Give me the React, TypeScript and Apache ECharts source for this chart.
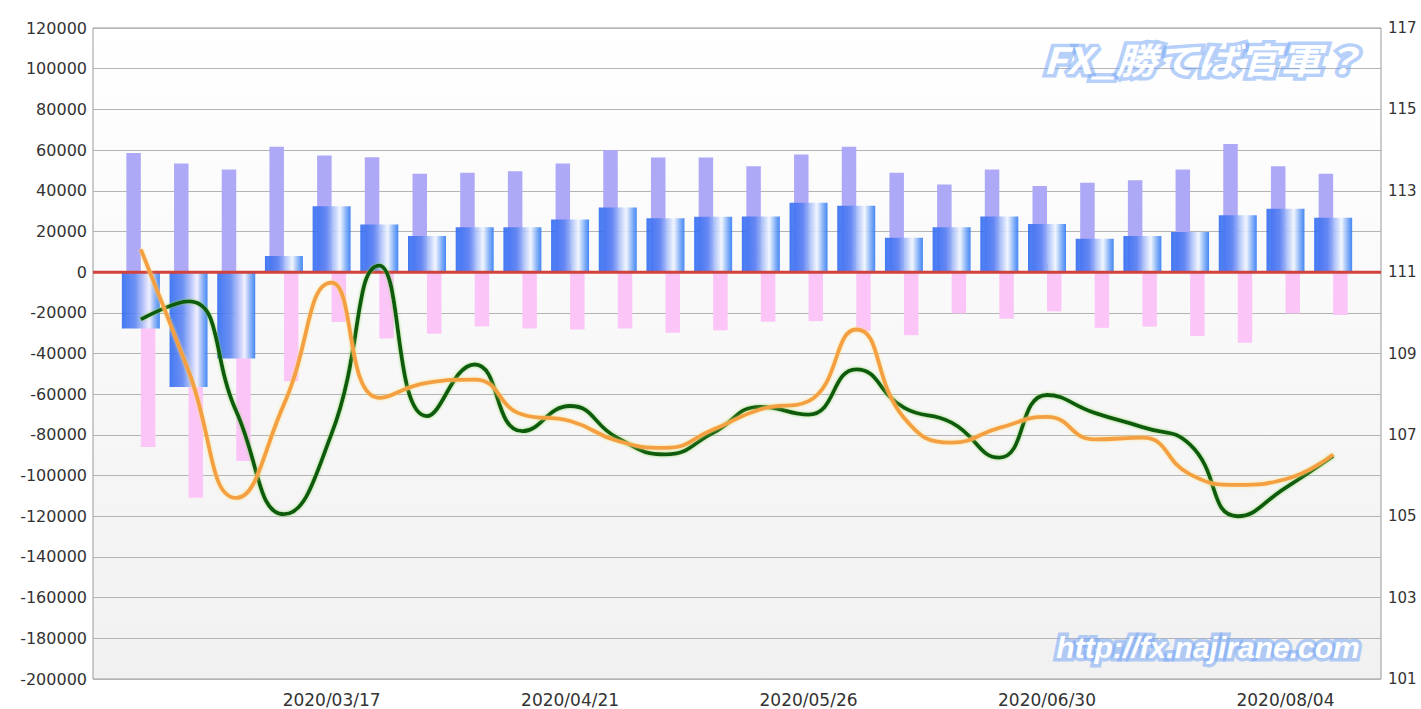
import React, { useEffect, useRef } from "react";
import * as echarts from "echarts";

const dates = [
  "2020/02/18", "2020/02/25", "2020/03/03", "2020/03/10", "2020/03/17", "2020/03/24",
  "2020/03/31", "2020/04/07", "2020/04/14", "2020/04/21", "2020/04/28", "2020/05/05",
  "2020/05/12", "2020/05/19", "2020/05/26", "2020/06/02", "2020/06/09", "2020/06/16",
  "2020/06/23", "2020/06/30", "2020/07/07", "2020/07/14", "2020/07/21", "2020/07/28",
  "2020/08/04", "2020/08/11",
];

const longPos = [
  58600, 53400, 50500, 61600, 57300, 56500, 48300, 48800, 49600, 53400, 60000, 56300,
  56300, 52100, 57800, 61600, 48800, 43100, 50500, 42300, 43900, 45200, 50500, 63000,
  52100, 48300,
];

const shortPos = [
  -86000, -110900, -92900, -53600, -24500, -32600, -30300, -26700, -27700, -28200, -27700, -29800,
  -28600, -24400, -24100, -29000, -31000, -20300, -22900, -19300, -27400, -26800, -31400, -34700,
  -20300, -21100,
];

const netPos = [
  -27700, -56500, -42400, 7900, 32400, 23400, 17700, 22100, 22100, 25900, 31800, 26500,
  27200, 27400, 34100, 32600, 16900, 22100, 27400, 23700, 16400, 17700, 19700, 28000,
  31100, 26700,
];

const priceGreen = [
  109.84, 110.28, 107.58, 105.05, 107.03, 111.16, 107.46, 108.73, 107.09, 107.71, 106.92, 106.52,
  107.05, 107.69, 107.50, 108.61, 107.67, 107.30, 106.44, 107.98, 107.54, 107.19, 106.76, 105.0,
  105.70, 106.48,
];

const priceOrange = [
  111.56, 108.57, 105.45, 107.75, 110.74, 107.91, 108.28, 108.36, 107.50, 107.34, 106.85, 106.68,
  107.13, 107.63, 107.83, 109.59, 107.42, 106.81, 107.17, 107.44, 106.89, 106.93, 106.03, 105.77,
  105.91, 106.52,
];

const leftMin = -200000;
const leftMax = 120000;
const leftStep = 20000;
const rightMin = 101;
const rightMax = 117;
const rightStep = 2;

const App: React.FC = () => {
  const ref = useRef<HTMLDivElement>(null);

  useEffect(() => {
    document.body.style.margin = "0";
    if (!ref.current) return;
    const chart = echarts.init(ref.current, undefined, { renderer: "svg" });
    const showIdx = (i: number) => i % 5 === 4;
    const labelFont = "'DejaVu Sans', 'Noto Sans', sans-serif";

    const option: any = {
      animation: false,
      backgroundColor: "#ffffff",
      grid: [
        {
          left: 93,
          right: 40,
          top: 28,
          bottom: 30,
          show: true,
          borderColor: "#9a9a9a",
          borderWidth: 1,
          backgroundColor: new echarts.graphic.LinearGradient(0, 0, 0, 1, [
            { offset: 0, color: "#ffffff" },
            { offset: 1, color: "#f1f1f1" },
          ]),
        },
        { left: 117, right: 64, top: 28, bottom: 30 },
      ],
      xAxis: [
        {
          gridIndex: 0,
          type: "value",
          min: 0,
          max: 1,
          show: false,
        },
        {
          gridIndex: 1,
          type: "category",
          data: dates,
          boundaryGap: true,
          axisLine: { show: false },
          axisTick: {
            show: true,
            inside: true,
            length: 9,
            alignWithLabel: true,
            interval: (i: number) => showIdx(i),
            lineStyle: { color: "#888888", width: 1 },
          },
          axisLabel: {
            interval: (i: number) => showIdx(i),
            color: "#333333",
            fontSize: 17,
            fontFamily: labelFont,
            margin: 12,
          },
          splitLine: { show: false },
        },
        {
          gridIndex: 1,
          type: "category",
          data: dates,
          boundaryGap: true,
          show: false,
        },
      ],
      yAxis: [
        {
          gridIndex: 0,
          type: "value",
          position: "left",
          min: leftMin,
          max: leftMax,
          interval: leftStep,
          axisLine: { show: false },
          axisTick: { show: false },
          axisLabel: {
            color: "#333333",
            fontSize: 16,
            fontFamily: labelFont,
            margin: 6,
            formatter: (v: number) => String(v),
          },
          splitLine: { show: true, lineStyle: { color: "#b4b4b4", width: 1 } },
        },
        {
          gridIndex: 0,
          type: "value",
          position: "right",
          min: rightMin,
          max: rightMax,
          interval: rightStep,
          axisLine: { show: false },
          axisTick: { show: false },
          axisLabel: {
            color: "#333333",
            fontSize: 15,
            fontFamily: labelFont,
            margin: 7,
            formatter: (v: number) => String(v),
          },
          splitLine: { show: false },
        },
        {
          gridIndex: 1,
          type: "value",
          min: leftMin,
          max: leftMax,
          show: false,
          splitLine: { show: false },
        },
        {
          gridIndex: 1,
          type: "value",
          min: rightMin,
          max: rightMax,
          show: false,
          splitLine: { show: false },
        },
      ],
      series: [
        {
          name: "long",
          type: "bar",
          xAxisIndex: 1,
          yAxisIndex: 2,
          data: longPos,
          barWidth: 14.5,
          barGap: "0%",
          itemStyle: { color: "#aea9f7" },
          z: 2,
        },
        {
          name: "short",
          type: "bar",
          xAxisIndex: 1,
          yAxisIndex: 2,
          data: shortPos,
          barWidth: 14.5,
          barGap: "0%",
          itemStyle: { color: "#fbc6f7" },
          z: 2,
        },
        {
          name: "net",
          type: "bar",
          xAxisIndex: 2,
          yAxisIndex: 2,
          data: netPos,
          barWidth: 38,
          itemStyle: {
            opacity: 0.88,
            color: new echarts.graphic.LinearGradient(0, 0, 1, 0, [
              { offset: 0, color: "#2b68f2" },
              { offset: 0.35, color: "#5a82f2" },
              { offset: 0.72, color: "#f0f5ff" },
              { offset: 0.9, color: "#6aa0f6" },
              { offset: 1, color: "#2d78f4" },
            ]),
          },
          z: 3,
        },
        {
          name: "zero",
          type: "line",
          xAxisIndex: 0,
          yAxisIndex: 0,
          data: [
            [0, 0],
            [1, 0],
          ],
          symbol: "none",
          lineStyle: { color: "#d2423c", width: 3 },
          z: 4,
          silent: true,
        },
        {
          name: "green",
          type: "line",
          xAxisIndex: 1,
          yAxisIndex: 3,
          data: priceGreen,
          smooth: 0.5,
          symbol: "none",
          lineStyle: {
            color: "#0b5c0b",
            width: 3.8,
            shadowColor: "rgba(130,210,90,0.8)",
            shadowBlur: 3,
          },
          z: 5,
        },
        {
          name: "orange",
          type: "line",
          xAxisIndex: 1,
          yAxisIndex: 3,
          data: priceOrange,
          smooth: 0.5,
          symbol: "none",
          lineStyle: {
            color: "#f4a043",
            width: 3.8,
            shadowColor: "rgba(250,220,120,0.8)",
            shadowBlur: 3,
          },
          z: 6,
        },
      ],
      graphic: [
        {
          type: "text",
          x: 1203,
          y: 58,
          scaleX: 1.15,
          z: 100,
          style: {
            text: "FX_勝てば官軍？",
            fill: "#ffffff",
            font: "italic bold 36px 'Noto Sans CJK JP', sans-serif",
            align: "center",
            verticalAlign: "middle",
            stroke: "rgba(120,168,245,0.55)",
            lineWidth: 7,
            strokeFirst: true,
            lineJoin: "round",
          },
        },
        {
          type: "text",
          x: 1208,
          y: 647,
          z: 100,
          style: {
            text: "http://fx.najirane.com",
            fill: "#ffffff",
            font: "italic bold 30px 'Liberation Sans', 'DejaVu Sans', sans-serif",
            align: "center",
            verticalAlign: "middle",
            stroke: "rgba(120,168,245,0.55)",
            lineWidth: 7,
            strokeFirst: true,
            lineJoin: "round",
          },
        },
      ],
    };

    chart.setOption(option);
    return () => {
      chart.dispose();
    };
  }, []);

  return <div ref={ref} style={{ width: 1421, height: 709 }} />;
};

export default App;
